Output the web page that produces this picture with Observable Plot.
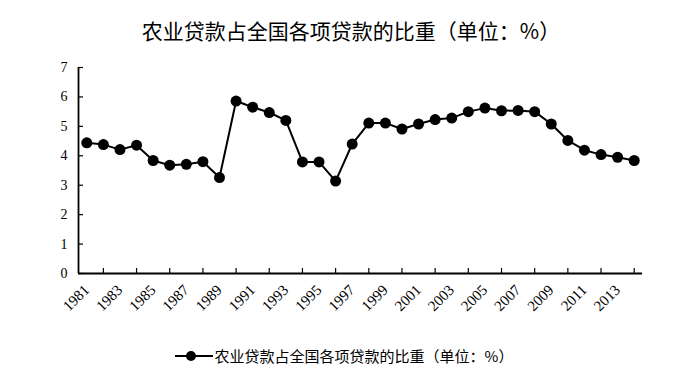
<!DOCTYPE html>
<html>
<head>
<meta charset="utf-8">
<script src="https://cdn.jsdelivr.net/npm/d3@7"></script>
<script src="https://cdn.jsdelivr.net/npm/@observablehq/plot@0.6"></script>
<style>
  html, body { margin: 0; padding: 0; background: #fff; }
  #wrap { width: 700px; height: 375px; overflow: hidden; }
  #title { height: 50px; box-sizing: border-box; padding-top: 20px; line-height: 20px; text-align: center;
           font-family: "Noto Sans CJK SC", sans-serif; font-size: 21px; color: #000; padding-left: 2px; }
  #legend { height: 45px; box-sizing: border-box; padding-top: 7px; display: flex; justify-content: center;
            align-items: center; font-family: "Noto Sans CJK SC", sans-serif; font-size: 15px; color: #000; padding-right: 12px; }
  #legend .sw { margin-right: 2px; }
  #legend .lbl { line-height: 20px; }
</style>
</head>
<body>
<div id="wrap">
  <div id="title"></div>
  <div id="chart"></div>
  <div id="legend"></div>
</div>
<script>
const titleText = "农业贷款占全国各项贷款的比重（单位：%）";
const seriesName = "农业贷款占全国各项贷款的比重（单位：%）";
const years = [1981,1982,1983,1984,1985,1986,1987,1988,1989,1990,1991,1992,1993,1994,1995,1996,1997,1998,1999,2000,2001,2002,2003,2004,2005,2006,2007,2008,2009,2010,2011,2012,2013,2014];
const values = [4.44,4.38,4.21,4.36,3.84,3.68,3.71,3.80,3.26,5.86,5.65,5.47,5.20,3.79,3.79,3.14,4.40,5.11,5.11,4.91,5.08,5.23,5.28,5.50,5.62,5.53,5.54,5.50,5.08,4.52,4.19,4.04,3.95,3.84];
const xLabels = [1981,1983,1985,1987,1989,1991,1993,1995,1997,1999,2001,2003,2005,2007,2009,2011,2013];
const xTicks = [1982,1984,1986,1988,1990,1992,1994,1996,1998,2000,2002,2004,2006,2008,2010,2012,2014];
const yTicks = [0,1,2,3,4,5,6,7];
const xDomain = [1980.5, 2014.5];
const yDomain = [0, 7];

const data = years.map((y, i) => ({year: y, value: values[i]}));

document.getElementById("title").textContent = titleText;

const chart = Plot.plot({
  width: 700,
  height: 280,
  marginTop: 17,
  marginBottom: 57,
  marginLeft: 78,
  marginRight: 58,
  style: {fontFamily: "'Liberation Serif', 'Times New Roman', serif", fontSize: "14px", color: "#000", background: "#fff"},
  x: {domain: xDomain, axis: null, label: null},
  y: {domain: yDomain, axis: null, label: null},
  marks: [
    Plot.axisY({ticks: yTicks, tickSize: 0, tickPadding: 11, tickFormat: d => String(d), fill: "#000", fontSize: 14, label: null}),
    Plot.axisX({ticks: xLabels, tickSize: 0, tickPadding: 14, tickRotate: -45, tickFormat: d => String(d), fill: "#000", fontSize: 15, label: null}),
    Plot.ruleY(yTicks, {y: d => d, x1: xDomain[0], x2: xDomain[0], insetRight: -5, stroke: "#000", strokeWidth: 1.2}),
    Plot.ruleX(xTicks, {x: d => d, y1: yDomain[0], y2: yDomain[0], insetTop: -5, stroke: "#000", strokeWidth: 1.2}),
    Plot.ruleX([xDomain[0]], {y1: yDomain[0], y2: yDomain[1], stroke: "#000", strokeWidth: 1.8}),
    Plot.ruleY([yDomain[0]], {x1: xDomain[0], x2: xDomain[1], stroke: "#000", strokeWidth: 1.8}),
    Plot.line(data, {x: "year", y: "value", stroke: "#000", strokeWidth: 2}),
    Plot.dot(data, {x: "year", y: "value", r: 5.5, fill: "#000", stroke: "none"})
  ]
});
document.getElementById("chart").appendChild(chart);

const legend = document.getElementById("legend");
legend.innerHTML = `<svg class="sw" width="38" height="14" viewBox="0 0 38 14"><line x1="0" y1="7" x2="38" y2="7" stroke="#000" stroke-width="2"/><circle cx="16" cy="7" r="5" fill="#000"/></svg><span class="lbl"></span>`;
legend.querySelector(".lbl").textContent = seriesName;
</script>
</body>
</html>
